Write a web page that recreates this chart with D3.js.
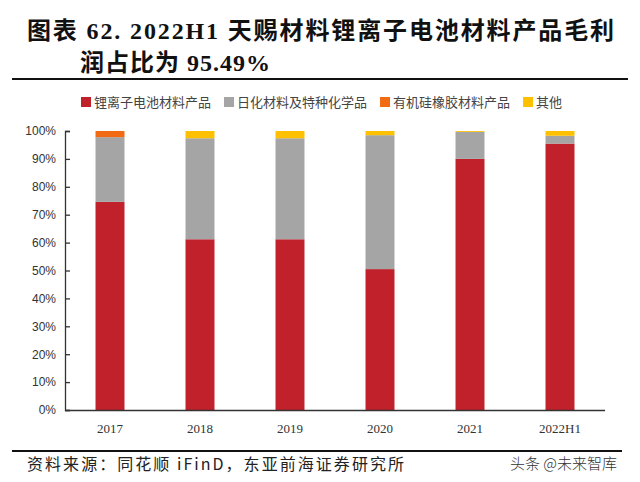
<!DOCTYPE html>
<html><head><meta charset="utf-8">
<script src="https://cdn.jsdelivr.net/npm/d3@7/dist/d3.min.js"></script>
<style>
html,body{margin:0;padding:0;background:#fff;}
svg{display:block;}
</style></head>
<body>
<svg id="chart" width="640" height="482"></svg>
<script>
const categories = ["2017","2018","2019","2020","2021","2022H1"];
const seriesNames = ["锂离子电池材料产品","日化材料及特种化学品","有机硅橡胶材料产品","其他"];
const lithium   = [74.6, 61.2, 61.2, 50.5, 90.0, 95.49];
const dailyChem = [23.2, 36.2, 36.2, 48.0, 9.7, 2.8];
const silicone  = [2.2, 0, 0, 0, 0, 0];
const others    = [0, 2.6, 2.6, 1.5, 0.3, 1.71];
const yTicks = [0,10,20,30,40,50,60,70,80,90,100];
const titleLines = ["图表 62. 2022H1 天赐材料锂离子电池材料产品毛利","润占比为 95.49%"];
const sourceText = "资料来源：同花顺 iFinD，东亚前海证券研究所";
const watermark = "头条 @未来智库";

const colors = ["#C0212B","#A5A5A5","#F26A12","#FFC000"];
const svg = d3.select("#chart");

// title
const tfont = '"Liberation Serif","Noto Sans CJK SC",serif';
svg.append("text").attr("x",27).attr("y",39).text(titleLines[0])
  .attr("font-family",tfont).attr("font-weight",700).attr("font-size",24)
  .attr("fill","#111").attr("textLength",587).attr("lengthAdjust","spacing");
svg.append("text").attr("x",80).attr("y",71).text(titleLines[1])
  .attr("font-family",tfont).attr("font-weight",700).attr("font-size",24)
  .attr("fill","#111").attr("textLength",190).attr("lengthAdjust","spacing");
svg.append("line").attr("x1",12).attr("x2",628).attr("y1",79).attr("y2",79)
  .attr("stroke","#111").attr("stroke-width",2);

// data
const rows = categories.map((c,i)=>({cat:c, s0:lithium[i], s1:dailyChem[i], s2:silicone[i], s3:others[i]}));
const stack = d3.stack().keys(["s0","s1","s2","s3"])(rows);

const x = d3.scaleBand().domain(categories).range([65,605]).paddingInner(0.678).paddingOuter(0.339);
const y = d3.scaleLinear().domain([0,100]).range([410,131]);

svg.append("g").selectAll("g").data(stack).join("g")
  .attr("fill",(d,i)=>colors[i])
  .selectAll("rect").data(d=>d).join("rect")
  .attr("x",d=>x(d.data.cat)).attr("width",x.bandwidth())
  .attr("y",d=>y(d[1])).attr("height",d=>Math.max(0,y(d[0])-y(d[1])));

// y axis
const ya = svg.append("g").attr("transform","translate(65,0)")
  .call(d3.axisLeft(y).tickValues(yTicks).tickFormat(d=>d+"%").tickSizeInner(-5).tickSizeOuter(-5).tickPadding(9));
ya.selectAll("path,line").attr("stroke","#333").attr("stroke-width",1.3);
ya.selectAll("text").attr("font-family","'Liberation Sans',Arial,sans-serif").attr("font-size",12).attr("fill","#333");

// x axis
const xa = svg.append("g").attr("transform","translate(0,410)")
  .call(d3.axisBottom(x).tickSize(0).tickPadding(14));
xa.select("path").attr("stroke","#333").attr("stroke-width",1.3).attr("d","M65,0.5H605");
xa.selectAll("text").attr("font-family","'Liberation Serif',serif").attr("font-size",13).attr("fill","#333");

// legend
const lg = svg.append("g");
let lx = 81;
seriesNames.forEach((n,i)=>{
  lg.append("rect").attr("x",lx).attr("y",97).attr("width",10).attr("height",10).attr("fill",colors[i]);
  const t = lg.append("text").attr("x",lx+13).attr("y",106.5).text(n)
    .attr("font-family",'"Noto Sans CJK SC",sans-serif').attr("font-size",13).attr("fill","#444");
  lx += 13 + t.node().getComputedTextLength() + 13;
});

// footer
svg.append("line").attr("x1",12).attr("x2",622).attr("y1",451).attr("y2",451)
  .attr("stroke","#111").attr("stroke-width",2);
svg.append("text").attr("x",27).attr("y",470).text(sourceText)
  .attr("font-family",'"Noto Sans CJK SC",sans-serif').attr("font-size",16).attr("fill","#222")
  .attr("textLength",377).attr("lengthAdjust","spacing");
svg.append("text").attr("x",510).attr("y",469).text(watermark)
  .attr("font-family",'"Noto Sans CJK SC",sans-serif').attr("font-weight",300).attr("font-size",15).attr("fill","#333");
</script>
</body></html>
